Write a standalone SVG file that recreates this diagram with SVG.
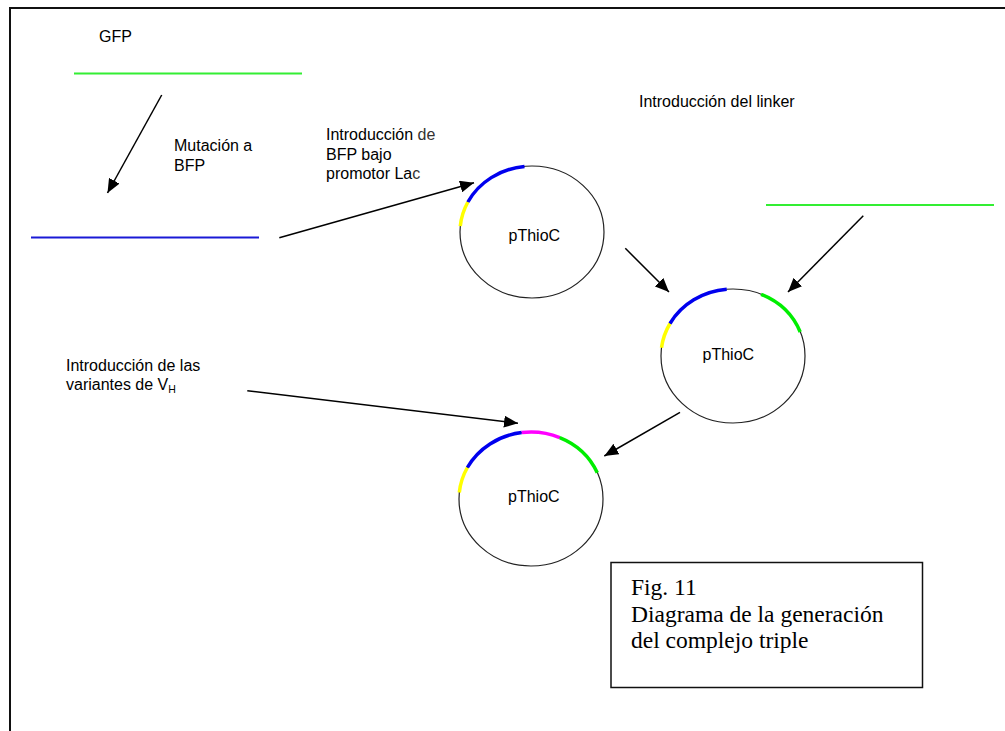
<svg xmlns="http://www.w3.org/2000/svg" width="1005" height="731" viewBox="0 0 1005 731">
<style>
.t{font-family:"Liberation Sans",Arial,sans-serif;font-size:16px;fill:#000}
.cap{font-family:"Liberation Serif","Times New Roman",serif;font-size:23.5px;fill:#000}
.ring{fill:none;stroke:#222;stroke-width:1.2}
.seg{fill:none;stroke-width:3.5;stroke-linecap:butt}
.arr{stroke:#000;stroke-width:1.5;fill:none;marker-end:url(#ah)}
</style>
<defs>
<marker id="ah" markerUnits="userSpaceOnUse" markerWidth="16" markerHeight="12" refX="14" refY="6" orient="auto">
<path d="M0,0 L14,6 L0,12 Z" fill="#000"/>
</marker>
</defs>
<rect x="10" y="8" width="1010" height="740" fill="#fff" stroke="#111" stroke-width="2"/>

<g id="gfp">
<line x1="74" y1="73.5" x2="302" y2="73.5" stroke="#33ee33" stroke-width="1.8"/>
<text class="t" x="99" y="42">GFP</text>
</g>
<g id="bfp">
<line x1="31" y1="237.5" x2="259" y2="237.5" stroke="#1a1ad6" stroke-width="1.8"/>
</g>
<g id="mutacion-label">
<text class="t" x="174" y="151">Mutación a</text>
<text class="t" x="174" y="171">BFP</text>
</g>
<g id="intro-bfp-label">
<text class="t" x="326" y="140">Introducción <tspan fill="#333">de</tspan></text>
<text class="t" x="326" y="159.5">BFP bajo</text>
<text class="t" x="326" y="179">promotor La<tspan fill="#333">c</tspan></text>
</g>
<g id="linker">
<text class="t" x="639" y="107">Introducción del linker</text>
<line x1="766" y1="205" x2="994" y2="205" stroke="#33ee33" stroke-width="1.8"/>
</g>
<g id="vh-label">
<text class="t" x="66" y="371">Introducción de las</text>
<text class="t" x="66" y="390">variantes de V<tspan font-size="10.5px" dy="3">H</tspan></text>
</g>

<g id="plasmid1">
<ellipse class="ring" cx="532" cy="232" rx="72" ry="66"/>
<path class="seg" stroke="#ffff00" d="M460.3,226.2 A72,66 0 0 1 467.9,202"/>
<path class="seg" stroke="#0000ee" d="M467.9,202 A72,66 0 0 1 524.5,166.4"/>
<text class="t" x="508.5" y="240.5">pThioC</text>
</g>

<g id="plasmid2">
<ellipse class="ring" cx="733" cy="356" rx="72" ry="67"/>
<path class="seg" stroke="#ffff00" d="M661.5,347.8 A72,67 0 0 1 670,323.5"/>
<path class="seg" stroke="#0000ee" d="M670,323.5 A72,67 0 0 1 726.7,289.3"/>
<path class="seg" stroke="#00ee00" d="M761.1,294.3 A72,67 0 0 1 800.2,332"/>
<text class="t" x="702.5" y="360">pThioC</text>
</g>

<g id="plasmid3">
<ellipse class="ring" cx="531" cy="499" rx="72" ry="67"/>
<path class="seg" stroke="#ffff00" d="M459.3,492.5 A72,67 0 0 1 467.4,467.5"/>
<path class="seg" stroke="#0000ee" d="M467.4,467.5 A72,67 0 0 1 521.7,432.6"/>
<path class="seg" stroke="#ff00ff" d="M521.7,432.6 A72,67 0 0 1 559.7,437.6"/>
<path class="seg" stroke="#00ee00" d="M559.7,437.6 A72,67 0 0 1 597.3,472.8"/>
<text class="t" x="508" y="502">pThioC</text>
</g>

<g id="caption">
<rect x="611" y="562.5" width="311.5" height="125" fill="#fff" stroke="#111" stroke-width="1.5"/>
<text class="cap" x="631" y="595">Fig. 11</text>
<text class="cap" x="631" y="621.5">Diagrama de la generación</text>
<text class="cap" x="631" y="648">del complejo triple</text>
</g>

<g id="connectors">
<line class="arr" x1="161.7" y1="95" x2="107.5" y2="193"/>
<line class="arr" x1="279.3" y1="237.7" x2="474" y2="182.7"/>
<line class="arr" x1="625.3" y1="248.3" x2="669" y2="292"/>
<line class="arr" x1="863.3" y1="215.7" x2="788" y2="292"/>
<line class="arr" x1="247.3" y1="390.7" x2="518" y2="423.3"/>
<line class="arr" x1="680" y1="412.3" x2="604.3" y2="456"/>
</g>
</svg>
